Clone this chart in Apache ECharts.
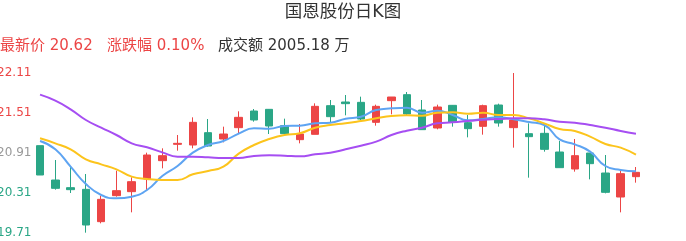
<!DOCTYPE html>
<html>
<head>
<meta charset="utf-8">
<script src="https://cdn.jsdelivr.net/npm/echarts@6/dist/echarts.min.js"></script>
<style>
html,body{margin:0;padding:0;background:#fff;}
#chart{width:686px;height:241px;}
</style>
</head>
<body>
<div id="chart"></div>
<script>
const days = ["d01","d02","d03","d04","d05","d06","d07","d08","d09","d10",
  "d11","d12","d13","d14","d15","d16","d17","d18","d19","d20",
  "d21","d22","d23","d24","d25","d26","d27","d28","d29","d30",
  "d31","d32","d33","d34","d35","d36","d37","d38","d39","d40"];
const opens  = [21.02,20.505,20.39,20.365,19.88,20.27,20.33,20.52,20.795,21.04,
  21.03,21.215,21.12,21.29,21.54,21.565,21.32,21.11,21.19,21.62,
  21.675,21.67,21.37,21.695,21.785,21.555,21.285,21.625,21.365,21.31,
  21.63,21.29,21.20,21.205,20.925,20.67,20.91,20.61,20.25,20.555];
const closes = [20.58,20.38,20.36,19.83,20.215,20.345,20.48,20.88,20.87,21.055,
  21.37,21.015,21.195,21.445,21.405,21.315,21.20,21.195,21.61,21.455,
  21.65,21.42,21.61,21.75,21.495,21.26,21.60,21.37,21.275,21.62,
  21.36,21.405,21.155,20.965,20.69,20.87,20.75,20.32,20.60,20.62];
const lows   = [20.58,20.36,20.31,19.715,19.855,20.255,20.02,20.355,20.68,20.945,
  20.98,21.005,21.07,21.195,21.38,21.195,21.195,21.055,21.19,21.37,
  21.475,21.405,21.32,21.49,21.48,21.26,21.265,21.305,21.145,21.185,
  21.305,20.99,20.54,20.93,20.69,20.63,20.515,20.305,20.02,20.465];
const highs  = [21.02,20.805,20.70,20.595,20.265,20.645,20.545,20.915,20.98,21.18,
  21.445,21.42,21.305,21.535,21.57,21.57,21.425,21.345,21.655,21.705,
  21.78,21.755,21.635,21.75,21.825,21.705,21.635,21.63,21.48,21.635,
  21.65,22.11,21.355,21.325,21.09,21.12,20.91,20.88,20.64,20.70];
const ma5  = [21.09,20.965,20.705,20.445,20.28,20.23,20.255,20.355,20.565,20.715,
  20.915,21.03,21.09,21.20,21.28,21.275,21.315,21.32,21.355,21.365,
  21.425,21.455,21.555,21.58,21.59,21.515,21.545,21.48,21.40,21.42,
  21.445,21.415,21.375,21.33,21.115,21.04,20.93,20.715,20.655,20.635];
const ma10 = [21.13,21.055,20.965,20.815,20.74,20.665,20.555,20.52,20.505,20.505,
  20.59,20.64,20.705,20.90,21.03,21.12,21.18,21.205,21.29,21.33,
  21.355,21.39,21.43,21.465,21.475,21.47,21.515,21.52,21.50,21.515,
  21.48,21.48,21.43,21.355,21.27,21.24,21.155,21.045,20.99,20.885];
const ma20 = [21.785,21.695,21.565,21.405,21.29,21.18,21.055,20.995,20.92,20.855,
  20.855,20.845,20.835,20.835,20.865,20.875,20.87,20.86,20.89,20.915,
  20.965,21.02,21.08,21.18,21.245,21.29,21.355,21.37,21.39,21.41,
  21.42,21.43,21.43,21.415,21.38,21.365,21.33,21.29,21.24,21.20];
const yTicks = [19.71,20.31,20.91,21.51,22.11];
const titleText = "国恩股份日K图";
const latestText = "最新价 20.62";
const changeText = "涨跌幅 0.10%";
const amountText = "成交额 2005.18 万";

const FONT = '"DejaVu Sans","Noto Sans CJK SC",sans-serif';
const UP = '#ec4545', DOWN = '#2aa686';
const kData = opens.map((o,i)=>[o, closes[i], lows[i], highs[i]]);
const mid = yTicks[2];

const chart = echarts.init(document.getElementById('chart'), null, {renderer:'canvas'});
chart.setOption({
  animation:false,
  backgroundColor:'#fff',
  textStyle:{fontFamily:FONT},
  title:{text:titleText,left:'center',top:-1,textStyle:{fontSize:17.5,fontWeight:'normal',color:'#333',fontFamily:FONT}},
  graphic:[
    {type:'text',left:0,top:39,style:{text:latestText,fill:UP,font:'15px '+FONT}},
    {type:'text',left:107,top:39,style:{text:changeText,fill:UP,font:'15px '+FONT}},
    {type:'text',left:218,top:39,style:{text:amountText,fill:'#333',font:'15px '+FONT}}
  ],
  grid:{left:32.4,right:42.4,top:73,bottom:8,outerBoundsMode:'none',containLabel:false},
  xAxis:{type:'category',data:days,boundaryGap:true,show:false},
  yAxis:{type:'value',min:yTicks[0],max:yTicks[yTicks.length-1],
    axisLine:{show:false},axisTick:{show:false},splitLine:{show:false},
    axisLabel:{customValues:yTicks,margin:1,fontSize:12,fontFamily:FONT,
      formatter:v=>v.toFixed(2),
      color:v=>Math.abs(v-mid)<0.001?'#999':(v>mid?UP:DOWN)}},
  series:[
    {type:'candlestick',data:kData,barWidth:8,
     itemStyle:{color:UP,color0:DOWN,borderColor:UP,borderColor0:DOWN,borderWidth:1}},
    {type:'line',data:ma5,smooth:true,showSymbol:false,lineStyle:{width:2,color:'#5ea4f2'}},
    {type:'line',data:ma10,smooth:true,showSymbol:false,lineStyle:{width:2,color:'#fcc41c'}},
    {type:'line',data:ma20,smooth:true,showSymbol:false,lineStyle:{width:2,color:'#a64ef2'}}
  ]
});
</script>
</body>
</html>
